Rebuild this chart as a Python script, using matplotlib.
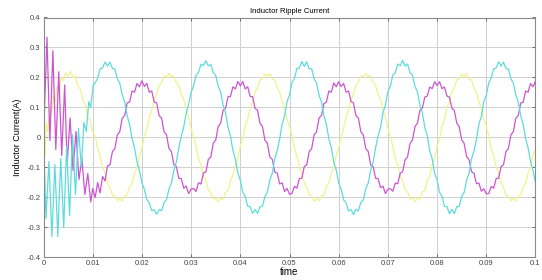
import numpy as np
import matplotlib
matplotlib.use("Agg")
import matplotlib.pyplot as plt

plt.rcParams["font.family"] = ["Liberation Sans", "DejaVu Sans"]

# ---- start-up transient, 0 .. 0.01 s (vertices) ----
yel_t0 = [0, 0.0003, 0.0006, 0.0009, 0.0013, 0.0016, 0.0020, 0.0024, 0.0028, 0.0032,
          0.0036, 0.0040, 0.0045, 0.0050, 0.0055, 0.0060, 0.0065, 0.0070, 0.0075,
          0.0080, 0.0085, 0.0090, 0.0095, 0.0100]
yel_v0 = [0.0, -0.06, 0.05, 0.02, 0.10, 0.08, 0.14, 0.12, 0.17, 0.16,
          0.20, 0.19, 0.215, 0.205, 0.22, 0.20, 0.205, 0.17, 0.16,
          0.125, 0.11, 0.07, 0.055, 0.02]

cya_t0 = [0, 0.0005, 0.0011, 0.0017, 0.0023, 0.0029, 0.0035, 0.0041, 0.0047, 0.0053,
          0.0059, 0.0065, 0.0071, 0.0077, 0.0082, 0.0087, 0.0092, 0.0096, 0.0101]
cya_v0 = [0.0, -0.27, -0.08, -0.33, -0.09, -0.33, -0.07, -0.30, -0.03, -0.26,
          0.01, -0.19, 0.03, -0.10, 0.05, 0.02, 0.12, 0.10, 0.175]

mag_t0 = [0, 0.0007, 0.0013, 0.0019, 0.0025, 0.0031, 0.0037, 0.0043, 0.0048, 0.0054,
          0.0060, 0.0066, 0.0072, 0.0078, 0.0084, 0.0090, 0.0096, 0.0100]
mag_v0 = [0.0, 0.334, -0.01, 0.289, -0.04, 0.219, -0.06, 0.175, -0.09, 0.065,
          -0.11, 0.02, -0.14, -0.07, -0.19, -0.12, -0.215, -0.17]

# ---- steady state, sampled every 0.5 ms from 0.0105 s to 0.1 s ----
ss_start, ss_step = 0.0105, 0.0005

yel_ss = [
    0.004, -0.036, -0.060, -0.099, -0.118, -0.152, -0.166, -0.192, -0.196, -0.211,
    -0.204, -0.212, -0.196, -0.190, -0.166, -0.152, -0.119, -0.099, -0.061, -0.037,
    0.004, 0.029, 0.069, 0.091, 0.127, 0.144, 0.174, 0.183, 0.205, 0.202,
    0.214, 0.203, 0.205, 0.182, 0.174, 0.143, 0.127, 0.091, 0.069, 0.029,
    0.003, -0.030, -0.069, -0.092, -0.127, -0.145, -0.174, -0.184, -0.204, -0.203,
    -0.214, -0.203, -0.205, -0.183, -0.175, -0.144, -0.127, -0.091, -0.069, -0.029,
    -0.004, 0.037, 0.061, 0.099, 0.119, 0.152, 0.166, 0.191, 0.196, 0.211,
    0.205, 0.212, 0.195, 0.191, 0.165, 0.152, 0.118, 0.099, 0.060, 0.037,
    0.005, -0.037, -0.061, -0.098, -0.119, -0.151, -0.167, -0.191, -0.195, -0.212,
    -0.205, -0.211, -0.195, -0.191, -0.165, -0.151, -0.120, -0.098, -0.060, -0.036,
    0.003, 0.030, 0.068, 0.092, 0.126, 0.145, 0.173, 0.184, 0.204, 0.203,
    0.213, 0.204, 0.204, 0.183, 0.173, 0.144, 0.126, 0.092, 0.068, 0.030,
    0.004, -0.029, -0.070, -0.091, -0.128, -0.144, -0.175, -0.183, -0.205, -0.202,
    -0.215, -0.202, -0.206, -0.182, -0.176, -0.143, -0.128, -0.090, -0.070, -0.028,
    -0.005, 0.038, 0.060, 0.100, 0.118, 0.153, 0.165, 0.192, 0.195, 0.212,
    0.204, 0.213, 0.194, 0.192, 0.164, 0.153, 0.117, 0.100, 0.059, 0.038,
    0.004, -0.036, -0.060, -0.099, -0.118, -0.152, -0.166, -0.192, -0.196, -0.211,
    -0.204, -0.212, -0.196, -0.190, -0.166, -0.152, -0.119, -0.099, -0.061, -0.037,
]

cya_ss = [
    0.182, 0.198, 0.229, 0.232, 0.252, 0.238, 0.251, 0.230, 0.228, 0.196,
    0.181, 0.142, 0.118, 0.073, 0.043, -0.004, -0.035, -0.081, -0.110, -0.151,
    -0.173, -0.207, -0.218, -0.244, -0.241, -0.256, -0.240, -0.244, -0.217, -0.207,
    -0.172, -0.151, -0.110, -0.081, -0.035, 0.004, 0.035, 0.081, 0.110, 0.151,
    0.172, 0.207, 0.217, 0.244, 0.240, 0.256, 0.239, 0.244, 0.216, 0.207,
    0.171, 0.152, 0.109, 0.082, 0.034, 0.005, -0.044, -0.072, -0.119, -0.142,
    -0.182, -0.197, -0.229, -0.231, -0.253, -0.240, -0.253, -0.231, -0.229, -0.197,
    -0.182, -0.142, -0.119, -0.072, -0.044, -0.005, 0.044, 0.072, 0.119, 0.142,
    0.183, 0.197, 0.230, 0.231, 0.253, 0.237, 0.252, 0.229, 0.229, 0.195,
    0.182, 0.141, 0.119, 0.072, 0.044, -0.005, -0.034, -0.082, -0.109, -0.152,
    -0.172, -0.208, -0.217, -0.245, -0.240, -0.257, -0.239, -0.245, -0.216, -0.208,
    -0.171, -0.152, -0.109, -0.082, -0.034, 0.005, 0.034, 0.082, 0.109, 0.152,
    0.171, 0.208, 0.216, 0.245, 0.239, 0.257, 0.238, 0.245, 0.215, 0.208,
    0.170, 0.153, 0.108, 0.083, 0.033, 0.006, -0.045, -0.071, -0.120, -0.141,
    -0.183, -0.196, -0.230, -0.230, -0.254, -0.239, -0.254, -0.230, -0.230, -0.196,
    -0.183, -0.141, -0.120, -0.071, -0.045, -0.006, 0.045, 0.071, 0.120, 0.141,
    0.182, 0.198, 0.229, 0.232, 0.252, 0.238, 0.251, 0.230, 0.228, 0.196,
    0.181, 0.142, 0.118, 0.073, 0.043, -0.004, -0.035, -0.081, -0.110, -0.151,
]

mag_ss = [
    -0.200, -0.150, -0.185, -0.130, -0.145, -0.095, -0.092, -0.047, -0.037, 0.009,
    0.019, 0.065, 0.073, 0.115, 0.118, 0.155, 0.151, 0.180, 0.169, 0.189,
    0.170, 0.180, 0.151, 0.155, 0.118, 0.115, 0.073, 0.065, 0.019, 0.009,
    -0.037, -0.047, -0.091, -0.097, -0.136, -0.137, -0.169, -0.162, -0.187, -0.172,
    -0.170, -0.180, -0.151, -0.155, -0.118, -0.115, -0.073, -0.065, -0.019, -0.009,
    0.037, 0.047, 0.091, 0.097, 0.136, 0.137, 0.169, 0.162, 0.187, 0.172,
    0.187, 0.162, 0.169, 0.137, 0.136, 0.097, 0.091, 0.047, 0.037, -0.009,
    -0.019, -0.065, -0.073, -0.115, -0.118, -0.155, -0.151, -0.180, -0.170, -0.189,
    -0.187, -0.163, -0.169, -0.137, -0.136, -0.097, -0.091, -0.047, -0.037, 0.009,
    0.019, 0.065, 0.073, 0.113, 0.118, 0.155, 0.151, 0.182, 0.169, 0.186,
    0.170, 0.180, 0.151, 0.155, 0.120, 0.115, 0.073, 0.065, 0.019, 0.009,
    -0.037, -0.047, -0.091, -0.097, -0.136, -0.137, -0.167, -0.162, -0.187, -0.172,
    -0.171, -0.179, -0.152, -0.154, -0.119, -0.114, -0.074, -0.064, -0.020, -0.008,
    0.036, 0.048, 0.090, 0.098, 0.135, 0.138, 0.168, 0.163, 0.186, 0.173,
    0.186, 0.163, 0.168, 0.138, 0.135, 0.098, 0.090, 0.048, 0.036, -0.008,
    -0.020, -0.064, -0.074, -0.114, -0.119, -0.154, -0.152, -0.179, -0.171, -0.188,
    -0.187, -0.163, -0.169, -0.137, -0.136, -0.097, -0.091, -0.047, -0.037, 0.009,
    0.019, 0.065, 0.073, 0.115, 0.118, 0.155, 0.151, 0.180, 0.169, 0.189,
]

x_ticks = [0, 0.01, 0.02, 0.03, 0.04, 0.05, 0.06, 0.07, 0.08, 0.09, 0.1]
x_tick_labels = ["0", "0.01", "0.02", "0.03", "0.04", "0.05", "0.06", "0.07", "0.08", "0.09", "0.1"]
y_ticks = [-0.4, -0.3, -0.2, -0.1, 0, 0.1, 0.2, 0.3, 0.4]
y_tick_labels = ["-0.4", "-0.3", "-0.2", "-0.1", "0", "0.1", "0.2", "0.3", "0.4"]


def trace(t0, v0, vss):
    t_ss = ss_start + ss_step * np.arange(len(vss))
    return np.concatenate([t0, t_ss]), np.concatenate([v0, vss])


fig = plt.figure(figsize=(5.42, 2.80), dpi=100)
ax = fig.add_axes([0.0803, 0.0804, 0.9077, 0.8571])

for t0, v0, vss, col in [
    (yel_t0, yel_v0, yel_ss, "#f2f28c"),
    (mag_t0, mag_v0, mag_ss, "#cc55d0"),
    (cya_t0, cya_v0, cya_ss, "#5edcdc"),
]:
    t, v = trace(t0, v0, vss)
    ax.plot(t, v, color=col, linewidth=0.9)

ax.set_xlim(0, 0.1)
ax.set_ylim(-0.4, 0.4)
ax.set_xticks(x_ticks)
ax.set_xticklabels(x_tick_labels)
ax.set_yticks(y_ticks)
ax.set_yticklabels(y_tick_labels)
ax.grid(True, color="#d0d0d0", linewidth=0.7)
ax.tick_params(direction="in", length=2.5, width=0.5, labelsize=5.5,
               top=True, right=True, colors="#444444", pad=2)
for s in ax.spines.values():
    s.set_color("#8a8a8a")
    s.set_linewidth(0.8)

ax.set_title("Inductor Ripple Current", fontsize=5.5, pad=3)
ax.set_xlabel("time", fontsize=7, labelpad=0)
ax.set_ylabel("Inductor Current(A)", fontsize=6.5, labelpad=4)

fig.savefig("out.png", dpi=100)
